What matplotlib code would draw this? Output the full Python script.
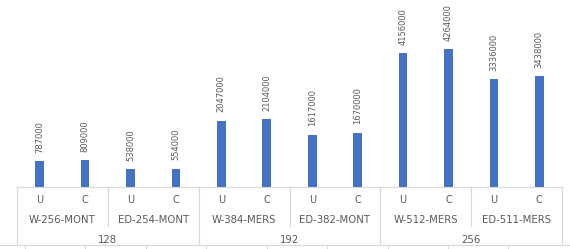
import matplotlib.pyplot as plt
from matplotlib.lines import Line2D
import matplotlib.transforms as mtransforms

# data
modes = ["U", "C"]
configs = ["W-256-MONT", "ED-254-MONT", "W-384-MERS", "ED-382-MONT", "W-512-MERS", "ED-511-MERS"]
sizes = ["128", "192", "256"]
values = [787000, 809000, 538000, 554000, 2047000, 2104000,
          1617000, 1670000, 4156000, 4264000, 3336000, 3438000]

bar_color = "#4472C4"
text_color = "#595959"
line_color = "#D9D9D9"

W, H = 570, 249
fig = plt.figure(figsize=(W / 100, H / 100), dpi=100)
axis_y = 186.5  # pixel row of the category axis line
ax = fig.add_axes([17 / W, (H - axis_y) / H, 545 / W, axis_y / H])

x = list(range(len(values)))
ax.bar(x, values, width=0.19, color=bar_color, zorder=2)
for xi, v in zip(x, values):
    ax.annotate(str(v), (xi, v), xytext=(0, 6), textcoords="offset points",
                rotation=90, ha="center", va="bottom", fontsize=6, color=text_color)

ax.set_xlim(-0.5, len(values) - 0.5)
ax.set_ylim(0, 5.8e6)
ax.set_yticks([])
ax.set_xticks([])
for s in ["top", "left", "right"]:
    ax.spines[s].set_visible(False)
ax.spines["bottom"].set_color(line_color)
ax.spines["bottom"].set_linewidth(0.8)

# multi-level category labels
px = 1 / axis_y  # one pixel in axes fraction
trans = mtransforms.blended_transform_factory(ax.transData, ax.transAxes)

def vline(xv, depth):
    ax.plot([xv, xv], [0, -depth * px], transform=trans, color=line_color,
            lw=0.8, clip_on=False)

for i, xi in enumerate(x):
    ax.text(xi, -13 * px, modes[i % 2], transform=trans, ha="center", va="center",
            fontsize=7, color=text_color)
for j, name in enumerate(configs):
    ax.text(2 * j + 0.5, -33 * px, name, transform=trans, ha="center", va="center",
            fontsize=7.3, color=text_color)
for k, name in enumerate(sizes):
    ax.text(4 * k + 1.5, -53 * px, name, transform=trans, ha="center", va="center",
            fontsize=7.3, color=text_color)

for j in range(1, len(configs)):
    if j % 2 == 1:
        vline(2 * j - 0.5, 39)
for k in range(len(sizes) + 1):
    vline(4 * k - 0.5, 57)

# faint grid line at the bottom edge
gy = (H - 245) / H
fig.add_artist(Line2D([0, 1], [gy, gy], color=line_color, lw=0.8))
for tx in [25, 85, 146, 206, 267, 327, 388, 448, 508]:
    fig.add_artist(Line2D([tx / W, tx / W], [gy, 0], color=line_color, lw=0.8))

fig.savefig("out.png", dpi=100)
